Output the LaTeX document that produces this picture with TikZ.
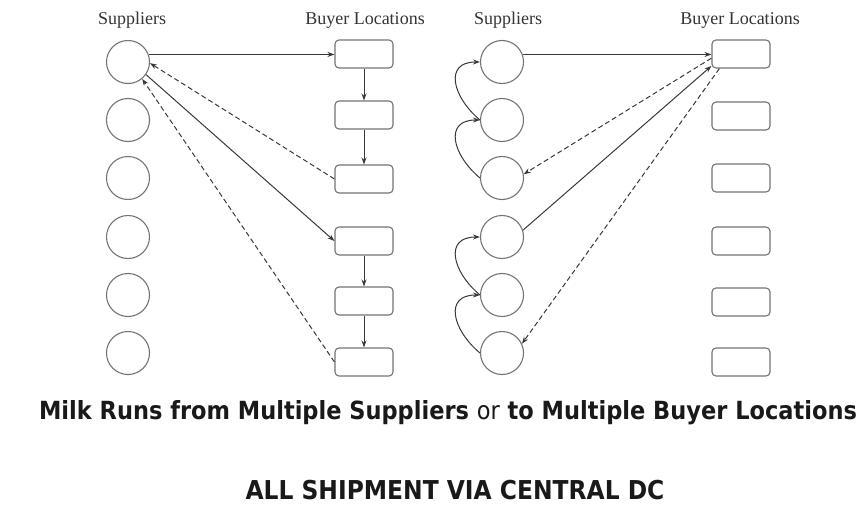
\documentclass[tikz,border=0pt]{standalone}
\usepackage{fontspec}
\setmainfont{Liberation Serif}
\newfontfamily\captionfont[FakeStretch=0.9]{DejaVu Sans}
\usetikzlibrary{positioning,calc,arrows.meta}

\begin{document}
\begin{tikzpicture}[x=1pt,y=-1pt,
    supplier/.style={circle,draw=black!55,line width=1.1pt,minimum size=43pt,inner sep=0pt},
    buyer/.style={rectangle,draw=black!55,line width=1.1pt,rounded corners=4pt,minimum width=58pt,minimum height=28pt,inner sep=0pt},
    head/.style={font=\fontsize{18}{20}\selectfont,text=black!80},
    run/.style={draw=black!78,line width=1pt,-{Stealth[length=7pt,width=5pt]}},
    back/.style={run,dash pattern=on 5pt off 3pt},
    caption/.style={font=\captionfont\bfseries\fontsize{25}{30}\selectfont,text=black!90}]
\useasboundingbox (0,0) rectangle (862,511);

% From multiple suppliers
\node[head] (lsup) at (132,20) {Suppliers};
\node[head] (lbuy) at (365,20) {Buyer Locations};
\foreach \i/\y in {1/62,2/120,3/178,4/237,5/295,6/353} {
    \node[supplier] (lc\i) at (128,\y) {};
}
\foreach \i/\y in {1/54,2/115,3/179,4/241,5/301,6/362} {
    \node[buyer] (lb\i) at (364,\y) {};
}
\draw[run] (lc1.20) -- (lc1.20 -| lb1.west);
\draw[run] (lb1.south) -- (lb2.north);
\draw[run] (lb2.south) -- (lb3.north);
\draw[back] (lb3.west) -- (lc1.-3);
\draw[run] (lc1.-35) -- (lb4.west);
\draw[run] (lb4.south) -- (lb5.north);
\draw[run] (lb5.south) -- (lb6.north);
\draw[back] (lb6.west) -- (lc1.-50);

% To multiple buyer locations
\node[head] (rsup) at (508,20) {Suppliers};
\node[head] (rbuy) at (740,20) {Buyer Locations};
\foreach \i/\y in {1/62,2/120,3/178,4/237,5/295,6/353} {
    \node[supplier] (rc\i) at (502,\y) {};
}
\foreach \i/\y in {1/54,2/116,3/178,4/241,5/302,6/362} {
    \node[buyer] (rb\i) at (741,\y) {};
}
\draw[back] (rb1.-172) -- (rc3.10);
\draw[run] (rc3.west) to[out=140,in=180,looseness=1.6] (rc2.west);
\draw[run] (rc2.west) to[out=140,in=180,looseness=1.6] (rc1.west);
\draw[run] (rc1.20) -- (rc1.20 -| rb1.west);
\draw[back] (rb1.-146) -- (rc6.25);
\draw[run] (rc6.west) to[out=140,in=180,looseness=1.6] (rc5.west);
\draw[run] (rc5.west) to[out=140,in=180,looseness=1.6] (rc4.west);
\draw[run] (rc4.18) -- (rb1.-158);

% Captions
\node[caption] (title) at (448,413) {Milk Runs from Multiple Suppliers {\mdseries or} to Multiple Buyer Locations};
\node[caption,font=\captionfont\bfseries\fontsize{26}{30}\selectfont] (subtitle) at (455,490) {ALL SHIPMENT VIA CENTRAL DC};

\end{tikzpicture}
\end{document}
